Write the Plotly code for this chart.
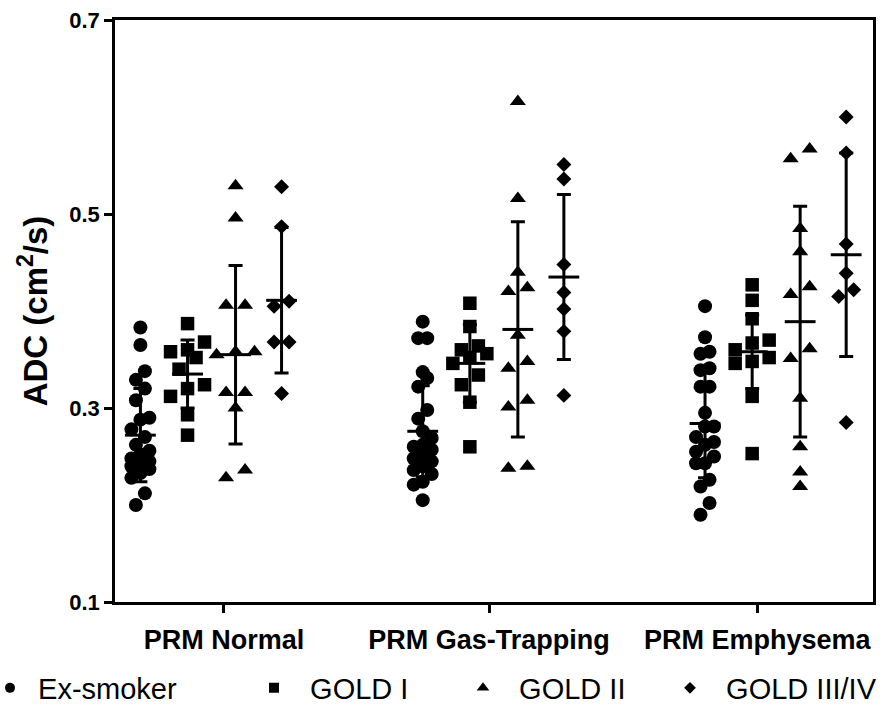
import numpy as np
import plotly.graph_objects as go

# ---------------- data ----------------
categories = ["PRM Normal", "PRM Gas-Trapping", "PRM Emphysema"]
groups = ["Ex-smoker", "GOLD I", "GOLD II", "GOLD III/IV"]

ex_smoker_normal = [0.383, 0.365, 0.338, 0.329, 0.320, 0.308, 0.290, 0.288, 0.278, 0.270, 0.262,
                    0.256, 0.252, 0.248, 0.245, 0.242, 0.240, 0.237, 0.233, 0.228, 0.212, 0.200]
ex_smoker_gas = [0.389, 0.372, 0.372, 0.337, 0.331, 0.322, 0.298, 0.289, 0.276, 0.269, 0.262,
                 0.260, 0.257, 0.252, 0.248, 0.245, 0.240, 0.236, 0.232, 0.224, 0.221, 0.205]
ex_smoker_emph = [0.405, 0.373, 0.358, 0.356, 0.341, 0.339, 0.322, 0.322, 0.295, 0.281, 0.281,
                  0.270, 0.265, 0.262, 0.255, 0.250, 0.243, 0.243, 0.226, 0.219, 0.202, 0.190]

gold1_normal = [0.387, 0.368, 0.360, 0.358, 0.352, 0.340, 0.324, 0.320, 0.312, 0.293, 0.272]
gold1_gas = [0.408, 0.384, 0.364, 0.360, 0.356, 0.352, 0.346, 0.334, 0.324, 0.306, 0.260]
gold1_emph = [0.427, 0.411, 0.392, 0.370, 0.367, 0.360, 0.352, 0.348, 0.346, 0.312, 0.253]

gold2_normal = [0.529, 0.496, 0.406, 0.406, 0.358, 0.358, 0.355, 0.316, 0.316, 0.300, 0.236, 0.228]
gold2_gas = [0.616, 0.516, 0.440, 0.424, 0.420, 0.375, 0.348, 0.341, 0.308, 0.301, 0.240, 0.238]
gold2_emph = [0.567, 0.557, 0.485, 0.461, 0.425, 0.417, 0.361, 0.351, 0.310, 0.260, 0.234, 0.219]

gold34_normal = [0.528, 0.487, 0.410, 0.405, 0.368, 0.368, 0.315]
gold34_gas = [0.551, 0.536, 0.448, 0.419, 0.402, 0.379, 0.313]
gold34_emph = [0.600, 0.563, 0.469, 0.439, 0.422, 0.415, 0.285]

# group means and standard deviations (per category: Ex-smoker, GOLD I, GOLD II, GOLD III/IV)
mean_normal = [0.272, 0.335, 0.355, 0.411]
mean_gas = [0.276, 0.346, 0.381, 0.435]
mean_emph = [0.284, 0.358, 0.389, 0.458]
sd_normal = [0.048, 0.035, 0.092, 0.075]
sd_gas = [0.047, 0.040, 0.111, 0.085]
sd_emph = [0.056, 0.038, 0.119, 0.105]

y_ticks = [0.1, 0.3, 0.5, 0.7]

# ---------------- layout / style ----------------
W, H = 880, 719
M_L, M_R, M_T, M_B = 115, 7, 20, 117
X_RANGE = [-0.340, 2.345]
Y_RANGE = [0.1, 0.7]
PX_PER_X = (W - M_L - M_R) / (X_RANGE[1] - X_RANGE[0])
PX_PER_Y = (H - M_T - M_B) / (Y_RANGE[1] - Y_RANGE[0])

group_offsets = [-0.250, -0.083, 0.087, 0.250]
tick_positions = [0.046, 0.985, 1.935]
symbols = ["circle", "square", "triangle-up", "diamond"]
marker_sizes = [14, 13.5, 14, 11.5]
legend_sizes = [10, 10, 11, 9]
swarm_spacing = [9, 17, 19, 15]
FONT = "Liberation Sans, Arial, sans-serif"

data = {
    0: [ex_smoker_normal, ex_smoker_gas, ex_smoker_emph],
    1: [gold1_normal, gold1_gas, gold1_emph],
    2: [gold2_normal, gold2_gas, gold2_emph],
    3: [gold34_normal, gold34_gas, gold34_emph],
}
means = [mean_normal, mean_gas, mean_emph]
sds = [sd_normal, sd_gas, sd_emph]


def swarm(values, spacing_px, row_px=12, max_row=3):
    vals = np.asarray(values, dtype=float)
    order = np.argsort(vals)
    rows, cur = [], [order[0]]
    for idx in order[1:]:
        if (vals[idx] - vals[cur[0]]) * PX_PER_Y <= row_px and len(cur) < max_row:
            cur.append(idx)
        else:
            rows.append(cur)
            cur = [idx]
    rows.append(cur)
    off = np.zeros(len(vals))
    for row in rows:
        n = len(row)
        for k, idx in enumerate(row):
            off[idx] = (k - (n - 1) / 2) * spacing_px
    return off / PX_PER_X


fig = go.Figure()

for g in range(4):
    for c in range(3):
        vals = data[g][c]
        xc = c + group_offsets[g]
        xs = xc + swarm(vals, swarm_spacing[g])
        fig.add_trace(go.Scatter(
            x=xs, y=vals, mode="markers", showlegend=False, hoverinfo="y",
            marker=dict(symbol=symbols[g], size=marker_sizes[g], color="black", line=dict(width=0)),
        ))

for c in range(3):
    for g in range(4):
        xc = c + group_offsets[g]
        fig.add_trace(go.Scatter(
            x=[xc], y=[means[c][g]], mode="markers", showlegend=False, hoverinfo="y",
            marker=dict(symbol="line-ew", size=22, color="black", line=dict(width=3, color="black")),
            error_y=dict(type="data", array=[sds[c][g]], visible=True, thickness=3, width=7, color="black"),
        ))

# legend entries (one legend per entry so each can be placed where it is in the reference)
legend_px = [-10, 254, 463, 670]
legend_names = ["Ex-smoker", "GOLD I", "GOLD II", "GOLD III/IV"]
legend_pad = ["\u00a0", "\u00a0\u00a0", "\u00a0\u00a0", "\u00a0\u00a0"]
legend_ids = ["legend", "legend2", "legend3", "legend4"]
for g in range(4):
    fig.add_trace(go.Scatter(
        x=[None], y=[None], mode="markers", name=legend_pad[g] + legend_names[g],
        legend=legend_ids[g], showlegend=True,
        marker=dict(symbol=symbols[g], size=legend_sizes[g], color="black"),
    ))

plot_w = W - M_L - M_R
plot_h = H - M_T - M_B
legend_layout = {}
for g in range(4):
    legend_layout[legend_ids[g]] = dict(
        x=(legend_px[g] - M_L) / plot_w, y=(M_T + plot_h - 688) / plot_h,
        xanchor="left", yanchor="middle", orientation="h",
        font=dict(family=FONT, size=29, color="black"),
        bgcolor="rgba(0,0,0,0)", borderwidth=0,
    )

fig.update_layout(
    width=W, height=H,
    margin=dict(l=M_L, r=M_R, t=M_T, b=M_B, autoexpand=False),
    paper_bgcolor="white", plot_bgcolor="white",
    font=dict(family=FONT, color="black"),
    **legend_layout,
)

fig.update_xaxes(
    range=X_RANGE, showgrid=False, zeroline=False,
    showline=True, linewidth=2.5, linecolor="black", mirror=True,
    tickmode="array", tickvals=tick_positions, ticktext=categories,
    ticks="outside", ticklen=8, tickwidth=2.5, tickcolor="black",
    tickfont=dict(family=FONT, size=27, color="black", weight="bold"),
    ticklabelstandoff=4,
)
fig.update_yaxes(
    range=Y_RANGE, showgrid=False, zeroline=False,
    showline=True, linewidth=2.5, linecolor="black", mirror=True,
    tickmode="array", tickvals=y_ticks, ticktext=[f"{v:.1f}" for v in y_ticks],
    ticks="outside", ticklen=8, tickwidth=2.5, tickcolor="black",
    tickfont=dict(family=FONT, size=22, color="black", weight="bold"),
    title=dict(text="ADC (cm<sup>2</sup>/s)", font=dict(family=FONT, size=33, color="black", weight="bold"),
               standoff=12),
    automargin=False,
)

fig.write_html("out.html")
